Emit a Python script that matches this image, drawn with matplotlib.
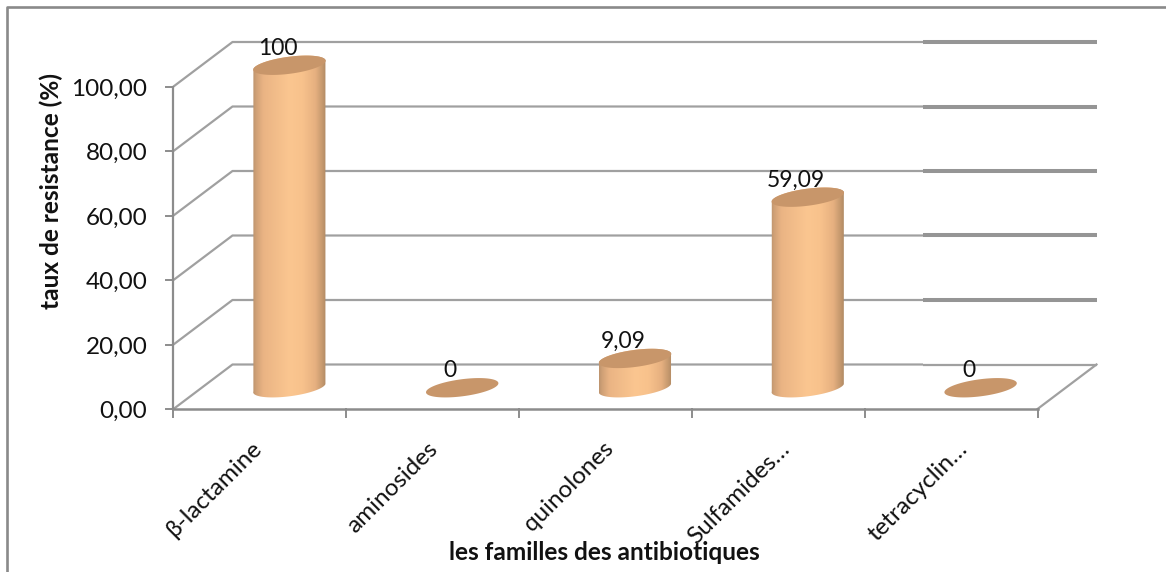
import numpy as np
import matplotlib
matplotlib.use("Agg")
import matplotlib.pyplot as plt
from matplotlib.patches import Polygon
from matplotlib.lines import Line2D

categories = ["β-lactamine", "aminosides", "quinolones", "Sulfamides…", "tetracyclin…"]
values = [100, 0, 9.09, 59.09, 0]
labels = ["100", "0", "9,09", "59,09", "0"]
yticks = [0, 20, 40, 60, 80, 100]
yticklabels = ["0,00", "20,00", "40,00", "60,00", "80,00", "100,00"]

W, H = 1166, 572
X0, Y0 = 173.5, 409        # pixel of origin
PX_CAT, PX_VAL = 172.8, 3.225 # pixels per category / value unit
DX, DY = 59 / PX_CAT, 44.5 / PX_VAL   # depth in data units
sx, sy = 1 / PX_CAT, 1 / PX_VAL
label_nudge_px = [3, 6, 9, 13, 18]

plt.rcParams['font.family'] = ['Lato', 'DejaVu Sans']
fig = plt.figure(figsize=(W / 100, H / 100), dpi=100)
ax = fig.add_axes([0, 0, 1, 1])
ax.axis('off')

G = '#8c8c8c'
n = len(categories)
SPLIT = (923 - X0) / PX_CAT
# walls and grid
for v in yticks:
    ax.plot([0, DX, SPLIT], [v, v + DY, v + DY], color='#a0a0a0', lw=1.6, solid_capstyle='butt')
    if v > 0:
        ax.plot([SPLIT, n + DX], [v + DY, v + DY], color='#959595', lw=2.9, solid_capstyle='butt')
    else:
        ax.plot([SPLIT, n + DX], [v + DY, v + DY], color='#a0a0a0', lw=1.6, solid_capstyle='butt')
ax.plot([n, n + DX], [0, DY], color='#a0a0a0', lw=1.6)
# axes
ax.plot([0, 0], [0, 100], color=G, lw=1.6)
ax.plot([0, n], [0, 0], color=G, lw=1.8)
for v in yticks:
    ax.plot([-7.5 * sx, 0], [v, v], color=G, lw=1.4)
for i in range(n + 1):
    ax.plot([i, i], [0, -8 * sy], color=G, lw=1.4)

# y labels
for v, s in zip(yticks, yticklabels):
    ax.text(-26 * sx, v - 9 * sy, s, ha='right', va='baseline', fontsize=17.5, color='#111111')
# x labels
for i, c in enumerate(categories):
    ax.text(i + 0.5 + label_nudge_px[i] * sx, -41 * sy, c, rotation=45, rotation_mode='anchor',
            ha='right', va='baseline', fontsize=17.5, color='#111111')

# cylinders
A, B, TILT = 36.5, 8.5, np.radians(7.5)
def ell(cx, cy, t):
    px = A * np.cos(t) * np.cos(TILT) - B * np.sin(t) * np.sin(TILT)
    py = A * np.cos(t) * np.sin(TILT) + B * np.sin(t) * np.cos(TILT)
    return cx + px * sx, cy + py * sy

grad_x = np.array([0, .04, .14, .5, .68, .86, .96, 1.0])
grad_c = np.array([[0xbd,0x94,0x6e],[0xcf,0xa0,0x76],[0xea,0xb4,0x84],[0xfb,0xc6,0x90],
                   [0xf8,0xc2,0x8c],[0xe6,0xb0,0x80],[0xc2,0x96,0x6c],[0xb0,0x8a,0x64]]) / 255
xs = np.linspace(0, 1, 200)
img = np.stack([np.interp(xs, grad_x, grad_c[:, k]) for k in range(3)], axis=1)[None, :, :]

CAP = '#c8966a'
for i, v in enumerate(values):
    cx = i + 0.5 + DX / 2
    base = DY / 2 - 1 * sy
    top = v + DY / 2 - 1 * sy
    if v > 0:
        t1 = np.linspace(-TILT, np.pi - TILT, 60)
        t2 = np.linspace(np.pi - TILT, 2 * np.pi - TILT, 60)
        xu, yu = ell(cx, top, t1)
        xl, yl = ell(cx, base, t2)
        poly = Polygon(np.column_stack([np.r_[xu, xl], np.r_[yu, yl]]), closed=True,
                       transform=ax.transData, fc='none', ec='none')
        ax.add_patch(poly)
        im = ax.imshow(img, extent=[cx - A * sx, cx + A * sx, base - 14 * sy, top + 14 * sy],
                       aspect='auto', zorder=3, interpolation='bilinear')
        im.set_clip_path(poly)
    t = np.linspace(0, 2 * np.pi, 120)
    xc, yc = ell(cx, top, t)
    ax.add_patch(Polygon(np.column_stack([xc, yc]), closed=True, fc=CAP, ec='none', zorder=4))
    ax.text(cx - 12 * sx, top + 10.5 * sy, labels[i], ha='center', va='baseline',
            fontsize=16.5, color='#111111', zorder=5)
ax.set_xlim(-X0 / PX_CAT, (W - X0) / PX_CAT)
ax.set_ylim((Y0 - H) / PX_VAL, Y0 / PX_VAL)

# axis titles
fig.text(51 / W, 1 - 191 / H, "taux de resistance (%)", rotation=90, ha='center', va='center',
         fontsize=17.6, fontweight='bold', color='#111111')
fig.text(604 / W, 1 - 560 / H, "les familles des antibiotiques", ha='center', va='baseline',
         fontsize=17.6, fontweight='bold', color='#111111')
# outer frame: only left and top edges fall inside the picture
fig.add_artist(Line2D([7 / W, 7 / W, 1], [0, 1 - 7 / H, 1 - 7 / H], transform=fig.transFigure,
                      color='#8a8a8a', lw=1.9))
fig.savefig('out.png', dpi=100)
